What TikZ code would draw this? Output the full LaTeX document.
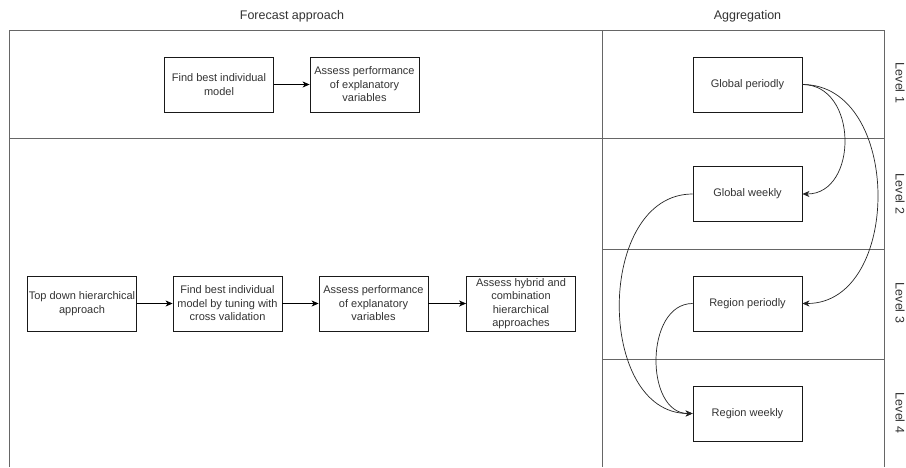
\documentclass[tikz,border=0pt]{standalone}
\usepackage{fontspec}
\setmainfont{Liberation Sans}
\usetikzlibrary{arrows.meta}
\begin{document}
\begin{tikzpicture}[x=1pt,y=-1pt,
  frameline/.style={draw=black!60,line width=0.9pt},
  stepbox/.style={draw=black!90,line width=0.8pt,rectangle,inner sep=0pt,
    minimum width=109pt,minimum height=55pt,align=center,
    text=black!80,font=\fontsize{11}{13.5}\selectfont},
  heading/.style={text=black!80,font=\fontsize{12.5}{14}\selectfont},
  levellabel/.style={text=black!80,rotate=-90,font=\fontsize{12.5}{14}\selectfont},
  flow/.style={draw=black,line width=0.8pt,-{Stealth[length=7pt,width=6pt,inset=2pt]}},
  link/.style={draw=black!85,line width=0.7pt,-{Stealth[length=7pt,width=6pt,inset=2pt]}}]
\useasboundingbox (0,0) rectangle (906,467);
\fill[white] (0,0) rectangle (906,467);

% swimlane frame
\draw[frameline] (9,467) -- (9,30) -- (884,30) -- (884,467);
\draw[frameline] (602,30) -- (602,467);
\draw[frameline] (9,138) -- (884,138);
\draw[frameline] (602,249) -- (884,249);
\draw[frameline] (602,359) -- (884,359);

% column headings
\node[heading] (hforecast) at (292,16) {Forecast approach};
\node[heading] (haggr) at (747.5,16) {Aggregation};

% level labels
\node[levellabel] (lv1) at (900,83) {Level 1};
\node[levellabel] (lv2) at (900,194) {Level 2};
\node[levellabel] (lv3) at (900,303) {Level 3};
\node[levellabel] (lv4) at (900,413) {Level 4};

% level 1 forecast steps
\node[stepbox] (fb1) at (219,84.5) {Find best individual\\model};
\node[stepbox] (ap1) at (364.5,84.5) {Assess performance\\of explanatory\\variables};
\draw[flow] (fb1) -- (ap1);

% hierarchical forecast steps
\node[stepbox] (td) at (82,303.5) {Top down hierarchical\\approach};
\node[stepbox] (fb2) at (227.5,303.5) {Find best individual\\model by tuning with\\cross validation};
\node[stepbox] (ap2) at (373.5,303.5) {Assess performance\\of explanatory\\variables};
\node[stepbox] (ah) at (521,303.5) {Assess hybrid and\\combination\\hierarchical\\approaches};
\draw[flow] (td) -- (fb2);
\draw[flow] (fb2) -- (ap2);
\draw[flow] (ap2) -- (ah);

% aggregation levels
\node[stepbox] (gp) at (747.5,84.5) {Global periodly};
\node[stepbox] (gw) at (747.5,194) {Global weekly};
\node[stepbox] (rp) at (747.5,303.5) {Region periodly};
\node[stepbox] (rw) at (747.5,413.5) {Region weekly};

\draw[link] (gp.east) .. controls +(56,0) and +(56,0) .. (gw.east);
\draw[link] (gp.east) .. controls +(100,0) and +(100,0) .. (rp.east);
\draw[link] (gw.west) .. controls +(-97,0) and +(-97,0) .. (rw.west);
\draw[link] (rp.west) .. controls +(-48,0) and +(-48,0) .. (rw.west);
\end{tikzpicture}
\end{document}
